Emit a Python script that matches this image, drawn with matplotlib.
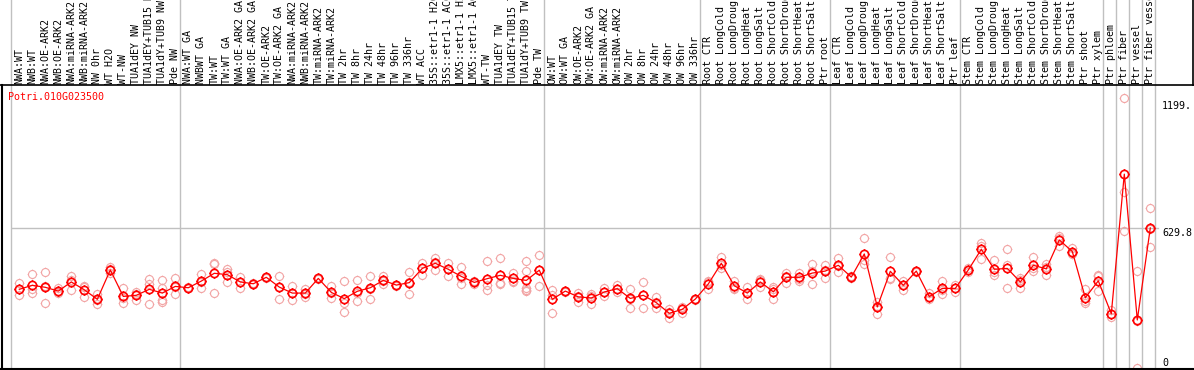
import numpy as np
import matplotlib
matplotlib.use("Agg")
import matplotlib.pyplot as plt
from matplotlib.path import Path

# sample labels, in column order
labels_nw = ["NWA:WT", "NWB:WT", "NWA:OE-ARK2", "NWB:OE-ARK2", "NWA:miRNA-ARK2",
             "NWB:miRNA-ARK2", "NW 0hr", "WT H2O", "WT-NW", "TUA1dEY NW",
             "TUA1dEY+TUB15 NW", "TUA1dY+TUB9 NW", "Pde NW"]
labels_tw = ["NWA:WT GA", "NWBWT GA", "TW:WT", "TW:WT GA", "NWA:OE-ARK2 GA",
             "NWB:OE-ARK2 GA", "TW:OE-ARK2", "TW:OE-ARK2 GA", "NWA:miRNA-ARK2",
             "NWB:miRNA-ARK2", "TW:miRNA-ARK2", "TW:miRNA-ARK2", "TW 2hr", "TW 8hr",
             "TW 24hr", "TW 48hr", "TW 96hr", "TW 336hr", "WT ACC", "35S::etr1-1 H2O",
             "35S::etr1-1 ACC", "LMX5::etr1-1 H2O", "LMX5::etr1-1 ACC", "WT-TW",
             "TUA1dEY TW", "TUA1dEY+TUB15 TW", "TUA1dY+TUB9 TW", "Pde TW"]
labels_ow = ["OW:WT", "OW:WT GA", "OW:OE-ARK2", "OW:OE-ARK2 GA", "OW:miRNA-ARK2",
             "OW:miRNA-ARK2", "OW 2hr", "OW 8hr", "OW 24hr", "OW 48hr", "OW 96hr",
             "OW 336hr"]
stress = ["CTR", "LongCold", "LongDrought", "LongHeat", "LongSalt", "ShortCold",
          "ShortDrought", "ShortHeat", "ShortSalt"]
labels_root = ["Root " + s for s in stress] + ["Ptr root"]
labels_leaf = ["Leaf " + s for s in stress] + ["Ptr leaf"]
labels_stem = ["Stem " + s for s in stress] + ["Ptr shoot", "Ptr xylem"]
labels_ptr = ["Ptr phloem", "Ptr fiber", "Ptr vessel", "Ptr fiber vessel"]

groups = [labels_nw, labels_tw, labels_ow, labels_root, labels_leaf, labels_stem,
          labels_ptr[:1], labels_ptr[1:2], labels_ptr[2:3], labels_ptr[3:]]
labels = [l for g in groups for l in g]

# mean expression per sample
means = [354, 372, 363, 346, 387, 352, 309, 441, 322, 327, 354, 337, 367,
         361, 391, 426, 420, 387, 379, 408, 364, 337, 337, 403, 340, 312, 345, 361,
         394, 373, 384, 448, 471, 444, 412, 385, 402, 417, 403, 394, 440,
         309, 346, 320, 315, 342, 357, 313, 327, 294, 246, 264, 310,
         378, 471, 370, 337, 387, 343, 408, 408, 427, 436,
         462, 409, 513, 275, 435, 372, 436, 321, 358, 358,
         441, 534, 444, 448, 387, 462, 446, 576, 524, 316, 392,
         244, 872, 216, 630]

# replicate values per sample
reps = [[381, 327, 354], [423, 336, 357], [430, 291, 368], [358, 336, 344],
        [414, 350, 397], [366, 321, 369], [333, 286, 308], [453, 426, 444],
        [358, 291, 317], [343, 306, 332], [399, 378, 288], [396, 358, 306, 298],
        [403, 333, 365],
        [363, 359, 361], [423, 361, 389], [468, 336, 474], [444, 385, 431],
        [411, 361, 389], [382, 377, 379], [410, 406, 408], [414, 312, 366],
        [369, 304, 338], [356, 321, 334], [405, 401, 403], [369, 313, 338],
        [392, 291, 250], [394, 302, 339], [414, 312, 357], [414, 378, 390],
        [375, 371, 373], [430, 333, 389], [474, 418, 452], [496, 441, 476],
        [472, 414, 446], [454, 376, 406], [393, 376, 386], [480, 373, 349],
        [493, 376, 382], [429, 388, 392], [480, 436, 358, 350, 346],
        [508, 369, 443],
        [351, 246, 330], [348, 344, 346], [339, 298, 323], [333, 289, 323],
        [361, 324, 341], [373, 342, 356], [356, 272, 311], [385, 268, 328],
        [318, 296, 268], [264, 223, 251], [276, 246, 270], [312, 308, 310],
        [393, 354, 387], [500, 448, 465], [393, 356, 361], [364, 309, 338],
        [402, 364, 395], [363, 309, 357], [429, 381, 414], [429, 393, 402],
        [468, 376, 437], [463, 403, 442],
        [495, 433, 458], [414, 403, 410], [584, 468, 487], [298, 243, 278],
        [498, 400, 406], [390, 351, 375], [438, 434, 436], [336, 309, 318],
        [392, 331, 351], [375, 340, 359],
        [450, 432, 441], [561, 491, 550], [485, 417, 430], [534, 464, 358],
        [406, 360, 395], [499, 438, 449], [466, 418, 454], [596, 549, 583],
        [541, 516, 515], [354, 291, 303], [418, 346, 412],
        [261, 228, 243], [1213, 790, 617], [435, 2, 211], [720, 546, 624]]

gene = "Potri.010G023500"
ref_value = 629.8
max_label = "1199."

W, H = 1194, 370
fig = plt.figure(figsize=(W / 100, H / 100), dpi=100)
font = dict(family="DejaVu Sans Mono", fontsize=7.2)

x = np.arange(len(labels))
xlim = (-19.3 / 13, (W - 19.3) / 13)
head_h = 85

# header with rotated sample names
hax = fig.add_axes([0, 1 - head_h / H, 1, head_h / H])
hax.set_xlim(*xlim)
hax.set_ylim(0, head_h)
hax.axis("off")
for xi, lab in zip(x, labels):
    hax.text(xi, 1.5, lab, rotation=90, ha="center", va="bottom", color="black",
             clip_on=True, **font)

# plot area
ax = fig.add_axes([0, 1 / H, 1, (H - head_h - 1) / H])
ax.set_xlim(*xlim)
ax.set_ylim(-4.5, 1273)
ax.axis("off")

# group separators run through header and plot
bounds = [-1] + list(np.cumsum([len(g) for g in groups]) - 1)
for b in bounds:
    xb = b + 0.5 - 0.12
    for a in (hax, ax):
        a.axvline(xb, color="#c0c0c0", lw=1, zorder=0)

ax.plot([xlim[0] + 0.9, 87.5 + 0.1], [ref_value, ref_value], color="#c0c0c0", lw=1, zorder=0)

# frame lines
fig.add_artist(plt.Line2D([0, 1], [1 - head_h / H, 1 - head_h / H], color="black", lw=1.2))
fig.add_artist(plt.Line2D([0, 1], [1.5 / H, 1.5 / H], color="black", lw=1.5))
fig.add_artist(plt.Line2D([1.5 / W, 1.5 / W], [1.5 / H, (H - head_h) / H], color="black", lw=1.5))
fig.add_artist(plt.Line2D([1 - 1.5 / W, 1 - 1.5 / W], [1 - head_h / H, 1], color="black", lw=1.2))

# circle marker with small nubs
circ = Path.unit_circle()
nubs = Path([(0, 1), (0, 1.22), (0, -1), (0, -1.22), (1, 0), (1.22, 0), (-1, 0), (-1.22, 0)],
            [Path.MOVETO, Path.LINETO] * 4)
marker = Path.make_compound_path(circ, nubs)

for xi, r in zip(x, reps):
    ax.plot([xi] * len(r), r, linestyle="none", marker=marker, markersize=7.0,
            markerfacecolor="none", markeredgecolor="#f2a4a4", markeredgewidth=0.8,
            zorder=2, clip_on=False)

ax.plot(x, means, color="#ff0000", lw=0.9, zorder=3)
ax.plot(x, means, linestyle="none", marker=marker, markersize=7.2,
        markerfacecolor="none", markeredgecolor="#ff0000", markeredgewidth=1.2, zorder=4)

# value labels on the right
xt = (1162 - 19.3) / 13
ax.text(xt, 1199, max_label, ha="left", va="top", color="black", **font)
ax.text(xt, ref_value, "%.1f" % ref_value, ha="left", va="top", color="black", **font)
ax.text(xt, 0, "0", ha="left", va="bottom", color="black", **font)

fig.text(8 / W, 1 - 97 / H, gene, ha="left", va="center", color="#ff0000", **font)

fig.savefig("out.png", dpi=100)
